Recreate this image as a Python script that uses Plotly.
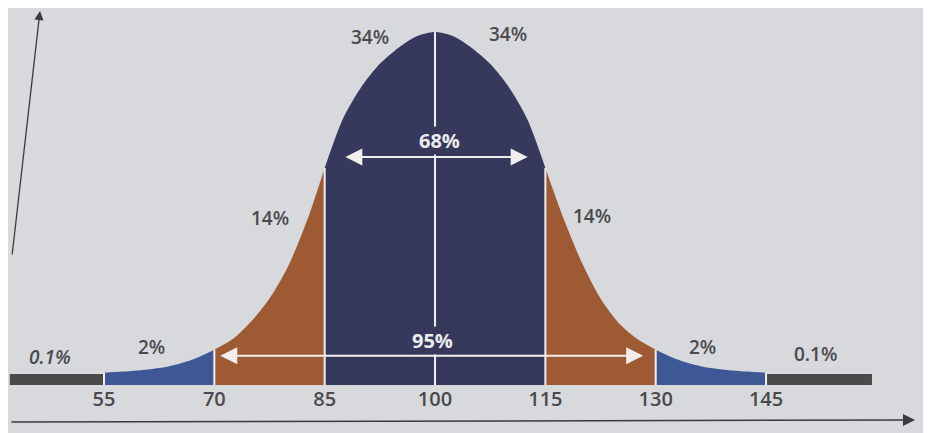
import plotly.graph_objects as go

# ---- data ----
x_grid = [55, 57.5, 60, 62.5, 65, 67.5, 70, 72.5, 75, 77.5, 80, 82.5, 85, 87.5, 90, 92.5, 95, 97.5,
          100, 102.5, 105, 107.5, 110, 112.5, 115, 117.5, 120, 122.5, 125, 127.5, 130, 132.5, 135,
          137.5, 140, 142.5, 145]
density = [3.5, 3.8, 4.2, 4.8, 5.9, 7.6, 10.0, 13.0, 18.0, 24.5, 33.5, 46.0, 61.5, 75.5, 84.5, 91.0, 95.5, 98.8,
           100.0, 98.8, 95.5, 91.0, 84.5, 75.5, 61.5, 47.0, 34.5, 24.5, 17.5, 13.0, 10.0, 7.6, 5.9,
           4.8, 4.2, 3.8, 3.5]
boundaries = [55, 70, 85, 100, 115, 130, 145]
tick_labels = ["55", "70", "85", "100", "115", "130", "145"]
band_left = [42.2, 55]
band_right = [145, 159.4]
band_height = 3.1
pct_labels = ["0.1%", "2%", "14%", "34%", "34%", "14%", "2%", "0.1%"]
inner_label = "68%"
outer_label = "95%"
inner_range = [87.6, 112.6]
outer_range = [70.6, 128.3]

NAVY = "#36395b"
BROWN = "#9e5a33"
BLUE = "#3d5895"
GREY = "#4a4a4a"
LINE = "#f2eeee"
TXT = "#4a4a4e"
BG = "#d8d9dc"

fig = go.Figure()

# grey tail bands
for bx in (band_left, band_right):
    fig.add_trace(go.Scatter(x=bx, y=[band_height, band_height], mode="lines",
                             line=dict(width=0, color=GREY), fill="tozeroy",
                             fillcolor=GREY, hoverinfo="skip", showlegend=False))

# coloured segments
segments = [(55, 70, BLUE), (70, 85, BROWN), (85, 115, NAVY), (115, 130, BROWN), (130, 145, BLUE)]
for lo, hi, col in segments:
    xs = [x for x in x_grid if lo <= x <= hi]
    ys = [d for x, d in zip(x_grid, density) if lo <= x <= hi]
    fig.add_trace(go.Scatter(x=xs, y=ys, mode="lines",
                             line=dict(width=0, color=col, shape="spline", smoothing=0.8),
                             fill="tozeroy", fillcolor=col, hoverinfo="skip", showlegend=False))

# white separator lines
for b in boundaries:
    h = density[x_grid.index(b)]
    fig.add_trace(go.Scatter(x=[b, b], y=[0, h], mode="lines", line=dict(width=2, color=LINE),
                             hoverinfo="skip", showlegend=False))

annotations = []

# percentage labels
label_pos = [(47.6, 8.0, True), (61.5, 10.8, False), (77.6, 47.3, False), (91.2, 98.6, False),
             (109.9, 99.4, False), (121.3, 47.9, False), (136.3, 10.8, False), (151.7, 8.7, False)]
for (lx, ly, it), txt in zip(label_pos, pct_labels):
    annotations.append(dict(x=lx, y=ly, xref="x", yref="y", text=txt, showarrow=False,
                            font=dict(family="Open Sans", size=19, color=TXT, weight=600,
                                      style="italic" if it else "normal")))
annotations.append(dict(x=100.6, y=69.2, xref="x", yref="y", text=inner_label, showarrow=False,
                        bgcolor=NAVY, borderpad=0,
                        font=dict(family="Open Sans", size=20, color="#ececec", weight=700)))
annotations.append(dict(x=99.6, y=12.6, xref="x", yref="y", text=outer_label, showarrow=False,
                        bgcolor=NAVY, borderpad=0,
                        font=dict(family="Open Sans", size=20, color="#ececec", weight=700)))

# double arrows
for (a, b), hy in ((inner_range, 64.6), (outer_range, 8.3)):
    annotations.append(dict(x=b, y=hy, ax=a, ay=hy, xref="x", yref="y", axref="x", ayref="y",
                            text="", showarrow=True, arrowhead=2, arrowside="end+start",
                            arrowsize=1.7, arrowwidth=2, arrowcolor=LINE))

# axis arrows (as in the photographed chart)
annotations.append(dict(x=907 / 931, y=(377 - 412) / 377, xref="paper", yref="paper",
                        ax=-905, ay=2, text="", showarrow=True, arrowhead=2, arrowsize=1.6,
                        arrowwidth=1.5, arrowcolor="#3a3a3e"))
annotations.append(dict(x=32 / 931, y=(377 - 3) / 377, xref="paper", yref="paper",
                        ax=-28, ay=245, text="", showarrow=True, arrowhead=2, arrowsize=1.4,
                        arrowwidth=1.3, arrowcolor="#3a3a3e"))

fig.update_layout(
    width=931, height=433,
    margin=dict(l=0, r=0, t=0, b=56),
    paper_bgcolor=BG, plot_bgcolor=BG,
    showlegend=False,
    annotations=annotations,
    xaxis=dict(range=[55 - 96 / 7.356, 55 + 835 / 7.356], tickvals=boundaries, ticktext=tick_labels,
               showgrid=False, zeroline=False, showline=False, ticks="",
               tickfont=dict(family="Open Sans", size=20, color=TXT, weight=600)),
    yaxis=dict(range=[0, 377 / 3.53], showgrid=False, zeroline=False, showline=False,
               showticklabels=False, ticks=""),
)

fig.write_html("out.html")
